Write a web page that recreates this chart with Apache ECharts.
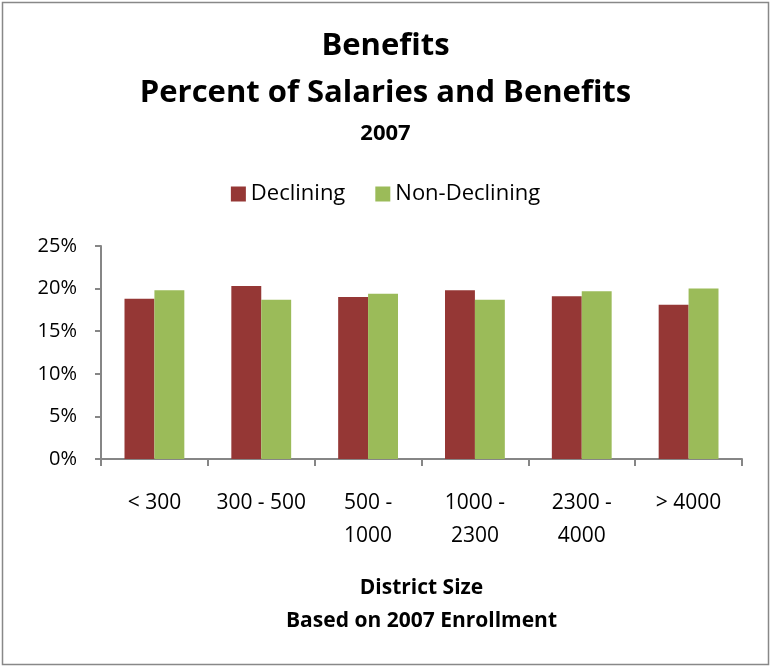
<!DOCTYPE html>
<html>
<head>
<meta charset="utf-8">
<script src="https://cdn.jsdelivr.net/npm/echarts@6/dist/echarts.min.js"></script>
<style>
  html, body { margin: 0; padding: 0; background: #fff; }
  #chart { width: 771px; height: 667px; }
</style>
</head>
<body>
<div id="chart"></div>
<script>
// District size bands (2007 enrollment)
var categories = ['< 300', '300 - 500', '500 -\n1000', '1000 -\n2300', '2300 -\n4000', '> 4000'];
// Benefits as percent of salaries and benefits
var declining = [18.8, 20.3, 19.0, 19.8, 19.1, 18.1];
var nonDeclining = [19.8, 18.7, 19.4, 18.7, 19.7, 20.0];
var yTicks = [0, 5, 10, 15, 20, 25];

var FONT = '"Open Sans", sans-serif';
var chart = echarts.init(document.getElementById('chart'));

chart.setOption({
  backgroundColor: '#ffffff',
  animation: false,
  textStyle: { fontFamily: FONT, color: '#000' },
  graphic: [{
    type: 'rect',
    shape: { x: 2.5, y: 2.5, width: 766, height: 662 },
    style: { fill: 'none', stroke: '#888888', lineWidth: 1.5 }
  }],
  title: [
    { text: 'Benefits', left: 'center', top: 26,
      textStyle: { fontFamily: FONT, fontSize: 31, fontWeight: 'bold', color: '#000' } },
    { text: 'Percent of Salaries and Benefits', left: 'center', top: 73,
      textStyle: { fontFamily: FONT, fontSize: 31, fontWeight: 'bold', color: '#000' } },
    { text: '2007', left: 'center', top: 118,
      textStyle: { fontFamily: FONT, fontSize: 22, fontWeight: 'bold', color: '#000' } }
  ],
  legend: {
    top: 178, left: 'center',
    itemWidth: 15, itemHeight: 15, itemGap: 30, itemTextGap: 6,
    icon: 'rect',
    textStyle: { fontFamily: FONT, fontSize: 22, color: '#000' },
    data: ['Declining', 'Non-Declining']
  },
  grid: { left: 101, right: 29, top: 246, bottom: 208, containLabel: false },
  xAxis: {
    type: 'category',
    data: categories,
    axisLine: { lineStyle: { color: '#868686', width: 2 } },
    axisTick: { show: true, length: 7, alignWithLabel: false, lineStyle: { color: '#868686', width: 2 } },
    axisLabel: { fontFamily: FONT, fontSize: 21, color: '#000', margin: 28, lineHeight: 33, interval: 0 },
    name: 'District Size\nBased on 2007 Enrollment',
    nameLocation: 'middle',
    nameGap: 113,
    nameTextStyle: { fontFamily: FONT, fontSize: 21, fontWeight: 'bold', color: '#000', lineHeight: 33 }
  },
  yAxis: {
    type: 'value',
    min: 0, max: 25, interval: 5,
    axisLine: { show: true, lineStyle: { color: '#868686', width: 2 } },
    axisTick: { show: true, length: 6, lineStyle: { color: '#868686', width: 2 } },
    splitLine: { show: false },
    axisLabel: { fontFamily: FONT, fontSize: 20, color: '#000', margin: 24,
      formatter: function (v) { return yTicks.indexOf(v) >= 0 ? v + '%' : ''; } }
  },
  series: [
    { name: 'Declining', type: 'bar', data: declining, barGap: '0%', barCategoryGap: '44%',
      itemStyle: { color: '#953735' } },
    { name: 'Non-Declining', type: 'bar', data: nonDeclining,
      itemStyle: { color: '#9BBB59' } }
  ]
});
</script>
</body>
</html>
